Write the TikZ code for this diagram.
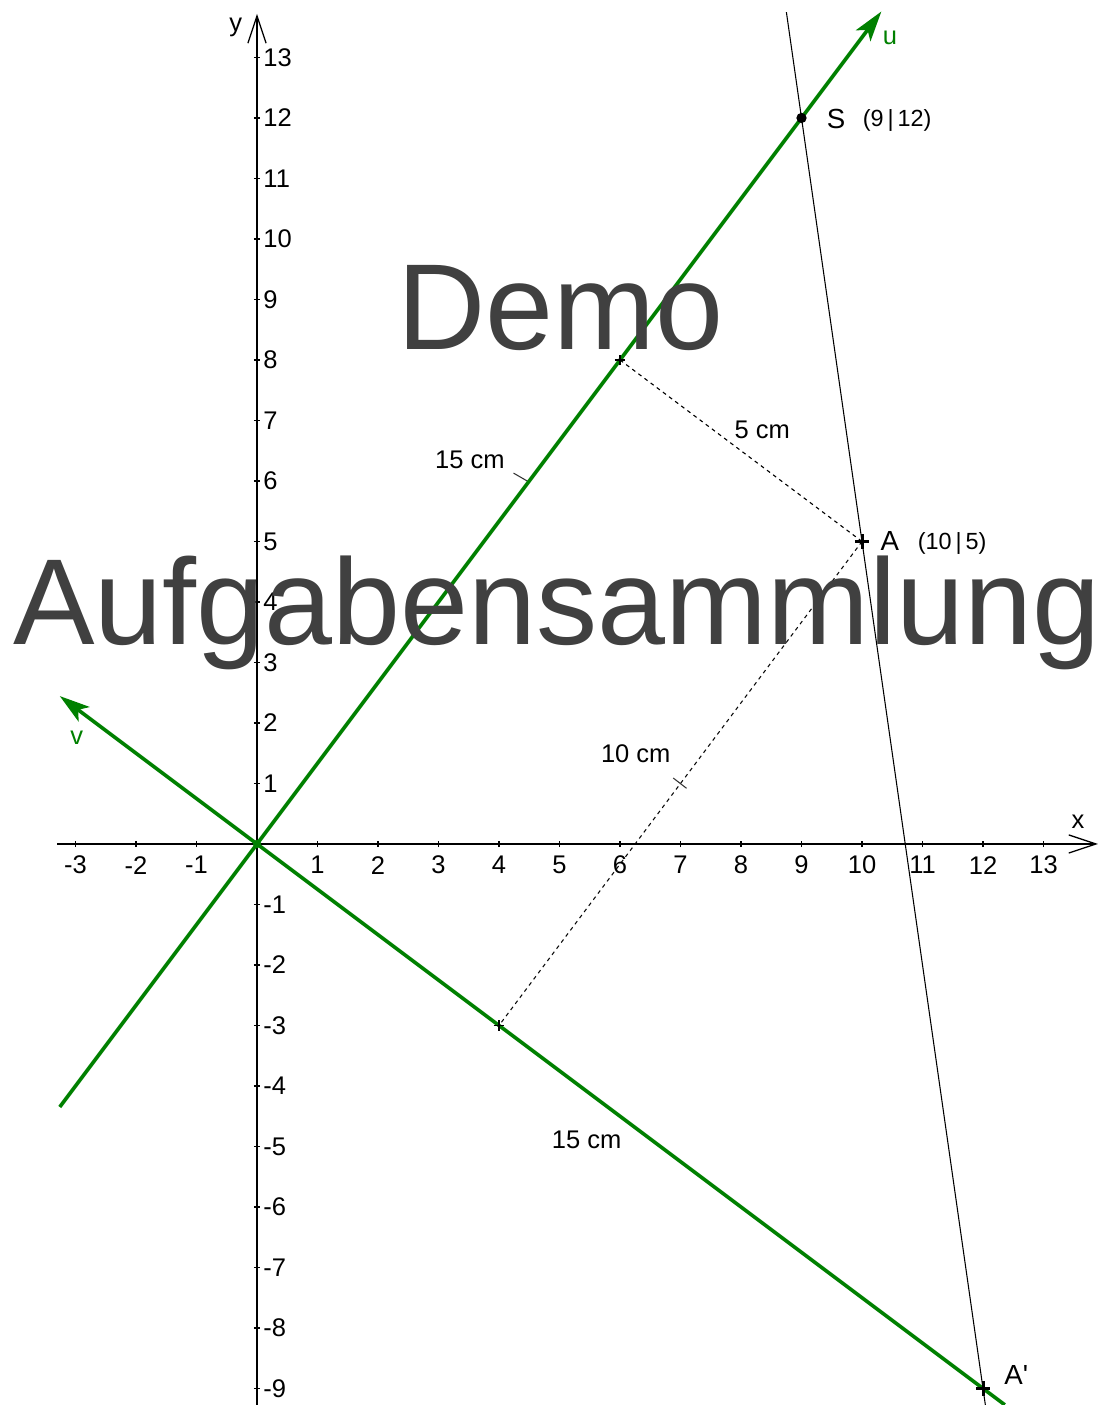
\documentclass[tikz,border=0pt]{standalone}
\usepackage{fontspec}
\setmainfont{Liberation Sans}
\usetikzlibrary{arrows.meta,calc}
\definecolor{ggbgreen}{RGB}{0,128,0}
\definecolor{wmgray}{RGB}{64,64,64}
\tikzset{
 axisline/.style={line width=0.7pt,-{Straight Barb[length=4.5mm,width=3mm,line width=0.6pt]}},
 gline/.style={ggbgreen,line width=1.7pt},
 garrow/.style={gline,-{Stealth[length=5mm,width=3mm,inset=1.2mm]}},
 dimline/.style={line width=0.5pt,dash pattern=on 1.8pt off 1.8pt},
 midtick/.style={line width=0.5pt,black!80},
 wmark/.style={text=wmgray,font=\fontsize{57.5}{60}\selectfont,inner sep=0pt}
}
\begin{document}
\begin{tikzpicture}[x=1cm,y=1cm,font=\fontsize{12}{14}\selectfont]
 \useasboundingbox (-4.248,-9.273) rectangle (14.017,13.95);
 \coordinate (O) at (0,0);\coordinate (S) at (9,12);\coordinate (A) at (10,5);\coordinate (Ap) at (12,-9);
 \coordinate (P) at (6,8);\coordinate (Q) at (4,-3);
 \coordinate (xl) at (-3.3,0);\coordinate (xr) at (13.9,0);\coordinate (yb) at (0,-9.3);\coordinate (yt) at (0,13.72);
 \coordinate (ub) at (-3.26,-4.347);\coordinate (ut) at (10.32,13.76);
 \coordinate (vt) at (-3.26,2.445);\coordinate (vb) at (12.36,-9.27);
 \coordinate (gt) at (8.75,13.75);\coordinate (gb) at (12.04,-9.28);
 \draw[axisline] (xl)--(xr);\draw[axisline] (yb)--(yt);
 \foreach \x in {-3,-2,-1,1,2,...,13}{\draw[line width=0.6pt] (\x,-0.05)--(\x,0.05);\node (tx\x) at (\x,-0.35) {\x};}
 \foreach \y in {-9,...,-1,1,2,...,13}{\draw[line width=0.6pt] (-0.05,\y)--(0.05,\y);\node[anchor=west,inner sep=0pt] (ty\y) at (0.1,\y) {\y};}
 \node (xlab) at (13.57,0.36) {x};\node (ylab) at (-0.35,13.49) {y};
 \draw[dimline] (P)--(A);\draw[dimline] (A)--(Q);
 \draw[midtick] (4.24,6.13)--(4.5,5.98);
 \draw[midtick] (6.88,1.09)--(7.1,0.92);
 \draw[line width=0.5pt] (gt)--(S)--(A)--(Ap)--(gb);
 \draw[garrow] (ub)--(O)--(ut);
 \draw[garrow] (vb)--(Ap)--(O)--(vt);
 \fill[ggbgreen] (O) circle (0.07);
 \fill (S) circle (0.085);
 \foreach \p in {A,Ap}{\draw[line width=1.4pt] ($(\p)+(-0.12,0)$)--($(\p)+(0.12,0)$) ($(\p)+(0,-0.12)$)--($(\p)+(0,0.12)$);}
 \foreach \p in {P,Q}{\draw[line width=0.5pt] ($(\p)+(-0.09,0)$)--($(\p)+(0.09,0)$) ($(\p)+(0,-0.09)$)--($(\p)+(0,0.09)$);}
 \node[text=ggbgreen] (ulab) at (10.46,13.32) {u};
 \node[text=ggbgreen] (vlab) at (-2.98,1.75) {v};
 \node[font=\fontsize{13}{15}\selectfont] (Slab) at (9.57,11.98) {S};
 \node[font=\fontsize{11}{13}\selectfont] (Scrd) at (10.58,11.95) {(9\,|\,12)};
 \node[font=\fontsize{13}{15}\selectfont] (Alab) at (10.46,5.0) {A};
 \node[font=\fontsize{11}{13}\selectfont] (Acrd) at (11.49,4.97) {(10\,|\,5)};
 \node[font=\fontsize{13}{15}\selectfont] (Aplab) at (12.55,-8.78) {A\textquotesingle};
 \node (dOS) at (3.52,6.35) {15 cm};
 \node (dPA) at (8.35,6.84) {5 cm};
 \node (dAQ) at (6.26,1.49) {10 cm};
 \node (dOAp) at (5.45,-4.89) {15 cm};
 \node[wmark,anchor=base] (wm1) at (5.02,8.17) {Demo};
 \node[wmark,anchor=base] (wm2) at (4.96,3.29) {Aufgabensammlung};
\end{tikzpicture}
\end{document}
